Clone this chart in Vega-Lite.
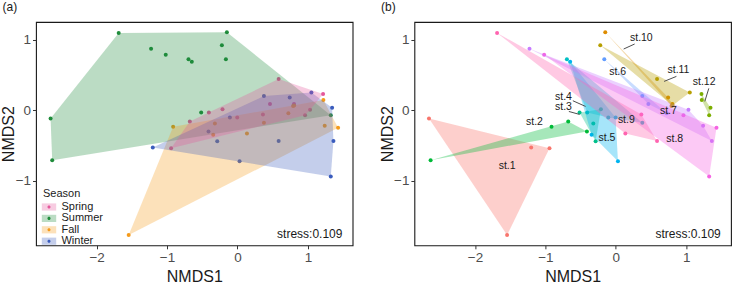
{
  "$schema": "https://vega.github.io/schema/vega-lite/v6.json",
  "background": "white",
  "padding": {"left": 0, "top": 0, "right": 0, "bottom": 0},
  "datasets": {
    "pts": [
      {"st": "st.1", "season": "Summer", "x": -2.653, "y": -0.117, "ha": 5, "hb": 1},
      {"st": "st.1", "season": "Fall", "x": -1.544, "y": -1.770, "ha": 4, "hb": 3},
      {"st": "st.1", "season": "Winter", "x": -1.202, "y": -0.529, "ha": 1, "hb": null},
      {"st": "st.1", "season": "Spring", "x": -0.942, "y": -0.539, "ha": 1, "hb": 2},
      {"st": "st.2", "season": "Summer", "x": -2.630, "y": -0.709, "ha": 4, "hb": 1},
      {"st": "st.2", "season": "Fall", "x": -0.913, "y": -0.236, "ha": 1, "hb": null},
      {"st": "st.2", "season": "Spring", "x": -0.676, "y": -0.160, "ha": 2, "hb": 2},
      {"st": "st.2", "season": "Winter", "x": -0.411, "y": -0.302, "ha": null, "hb": 3},
      {"st": "st.3", "season": "Summer", "x": -0.515, "y": -0.032, "ha": null, "hb": 1},
      {"st": "st.3", "season": "Spring", "x": -0.212, "y": 0.015, "ha": null, "hb": 2},
      {"st": "st.3", "season": "Fall", "x": -0.320, "y": -0.188, "ha": null, "hb": null},
      {"st": "st.3", "season": "Winter", "x": -0.287, "y": -0.439, "ha": null, "hb": 3},
      {"st": "st.4", "season": "Summer", "x": -0.695, "y": 0.721, "ha": null, "hb": 1},
      {"st": "st.4", "season": "Spring", "x": -0.406, "y": -0.032, "ha": null, "hb": 4},
      {"st": "st.4", "season": "Fall", "x": 0.376, "y": -0.179, "ha": null, "hb": 2},
      {"st": "st.4", "season": "Winter", "x": -0.107, "y": -0.103, "ha": null, "hb": 3},
      {"st": "st.5", "season": "Summer", "x": -0.648, "y": 0.688, "ha": null, "hb": 1},
      {"st": "st.5", "season": "Spring", "x": -0.003, "y": -0.103, "ha": null, "hb": 2},
      {"st": "st.5", "season": "Fall", "x": -0.344, "y": -0.349, "ha": null, "hb": 4},
      {"st": "st.5", "season": "Winter", "x": 0.030, "y": -0.723, "ha": null, "hb": 3},
      {"st": "st.6", "season": "Summer", "x": -0.164, "y": 0.721, "ha": null, "hb": 1},
      {"st": "st.6", "season": "Spring", "x": 0.462, "y": 0.086, "ha": null, "hb": 3},
      {"st": "st.6", "season": "Fall", "x": 0.723, "y": -0.042, "ha": null, "hb": 2},
      {"st": "st.6", "season": "Winter", "x": 0.376, "y": 0.200, "ha": 2, "hb": null},
      {"st": "st.7", "season": "Summer", "x": -1.226, "y": 0.872, "ha": null, "hb": 1},
      {"st": "st.7", "season": "Spring", "x": 1.031, "y": 0.006, "ha": 5, "hb": 2},
      {"st": "st.7", "season": "Fall", "x": 1.239, "y": -0.222, "ha": null, "hb": 3},
      {"st": "st.7", "season": "Winter", "x": 1.363, "y": -0.435, "ha": 5, "hb": 4},
      {"st": "st.8", "season": "Summer", "x": -1.018, "y": 0.787, "ha": null, "hb": 1},
      {"st": "st.8", "season": "Spring", "x": 0.960, "y": -0.070, "ha": 6, "hb": null},
      {"st": "st.8", "season": "Fall", "x": 1.429, "y": -0.250, "ha": 3, "hb": 2},
      {"st": "st.8", "season": "Winter", "x": 1.325, "y": -0.941, "ha": 6, "hb": 3},
      {"st": "st.9", "season": "Summer", "x": -1.686, "y": 1.095, "ha": 1, "hb": 1},
      {"st": "st.9", "season": "Spring", "x": 0.362, "y": -0.061, "ha": null, "hb": 2},
      {"st": "st.9", "season": "Fall", "x": 0.135, "y": -0.330, "ha": null, "hb": 4},
      {"st": "st.9", "season": "Winter", "x": 0.585, "y": -0.435, "ha": null, "hb": 3},
      {"st": "st.10", "season": "Summer", "x": -0.150, "y": 1.104, "ha": 2, "hb": 1},
      {"st": "st.10", "season": "Spring", "x": 0.803, "y": 0.087, "ha": null, "hb": 3},
      {"st": "st.10", "season": "Fall", "x": 0.790, "y": 0.060, "ha": null, "hb": 4},
      {"st": "st.10", "season": "Winter", "x": 0.742, "y": 0.181, "ha": null, "hb": 2},
      {"st": "st.11", "season": "Summer", "x": -0.221, "y": 0.919, "ha": null, "hb": 1},
      {"st": "st.11", "season": "Spring", "x": 0.585, "y": 0.441, "ha": 3, "hb": null},
      {"st": "st.11", "season": "Fall", "x": 0.805, "y": 0.066, "ha": null, "hb": 3},
      {"st": "st.11", "season": "Winter", "x": 1.050, "y": 0.252, "ha": 3, "hb": 2},
      {"st": "st.12", "season": "Spring", "x": 1.216, "y": 0.228, "ha": 4, "hb": 1},
      {"st": "st.12", "season": "Fall", "x": 1.220, "y": 0.143, "ha": 2, "hb": 4},
      {"st": "st.12", "season": "Winter", "x": 1.344, "y": 0.034, "ha": 4, "hb": 2},
      {"st": "st.12", "season": "Summer", "x": 1.325, "y": -0.070, "ha": 3, "hb": 3}
    ],
    "tags": [
      {"st": "st.1", "lx": -1.544, "ly": -0.79},
      {"st": "st.2", "lx": -1.155, "ly": -0.165},
      {"st": "st.3", "lx": -0.743, "ly": 0.05, "x1": -0.667, "y1": -0.018, "x2": -0.515, "y2": -0.06},
      {"st": "st.4", "lx": -0.743, "ly": 0.186, "x1": -0.61, "y1": 0.134, "x2": -0.43, "y2": 0.053},
      {"st": "st.5", "lx": -0.126, "ly": -0.397},
      {"st": "st.6", "lx": 0.026, "ly": 0.536},
      {"st": "st.7", "lx": 0.746, "ly": -0.018},
      {"st": "st.8", "lx": 0.836, "ly": -0.402},
      {"st": "st.9", "lx": 0.149, "ly": -0.141},
      {"st": "st.10", "lx": 0.362, "ly": 1.024, "x1": 0.267, "y1": 0.938, "x2": 0.111, "y2": 0.867},
      {"st": "st.11", "lx": 0.889, "ly": 0.569, "x1": 0.86, "y1": 0.479, "x2": 0.685, "y2": 0.408},
      {"st": "st.12", "lx": 1.254, "ly": 0.394, "x1": 1.32, "y1": 0.309, "x2": 1.263, "y2": 0.124}
    ]
  },
  "config": {
    "font": "Liberation Sans",
    "view": {"stroke": "#1a1a1a", "strokeWidth": 1.1},
    "axis": {
      "domain": false, "grid": false, "format": "d",
      "tickColor": "#333333", "tickSize": 3.5, "tickWidth": 1,
      "labelColor": "#4d4d4d", "labelFontSize": 13.5, "labelPadding": 2,
      "titleFontSize": 16, "titleFontWeight": "normal", "titleColor": "#1a1a1a"
    },
    "title": {"fontSize": 12, "fontWeight": "normal", "anchor": "start", "color": "#1a1a1a"}
  },
  "resolve": {"scale": {"color": "independent", "x": "independent", "y": "independent"}},
  "bounds": "flush",
  "spacing": 61.4,
  "hconcat": [
    {
      "width": 316.6,
      "height": 223.3,
      "title": {"text": "(a)", "frame": "bounds", "offset": 8, "dx": 2},
      "data": {"name": "pts"},
      "layer": [
        {
          "mark": {"type": "circle", "size": 16, "opacity": 1},
          "encoding": {
            "x": {"field": "x", "type": "quantitative", "scale": {"domain": [-2.86, 1.635], "nice": false, "zero": false}, "axis": {"title": "NMDS1", "values": [-2, -1, 0, 1], "titlePadding": 4.5}},
            "y": {"field": "y", "type": "quantitative", "scale": {"domain": [-1.915, 1.25], "nice": false, "zero": false}, "axis": {"title": "NMDS2", "values": [-1, 0, 1], "titlePadding": -1.5}},
            "color": {
              "field": "season", "type": "nominal",
              "scale": {"domain": ["Spring", "Summer", "Fall", "Winter"], "range": ["#e4579b", "#1f8c3b", "#f59b1c", "#3a5cbd"]},
              "legend": {
                "orient": "none", "legendX": 7, "legendY": 166, "zindex": 2,
                "title": "Season", "titleColor": "transparent", "titleFontSize": 11, "titleFontWeight": "normal", "titlePadding": 2,
                "labelFontSize": 11, "labelColor": "transparent", "labelOffset": 6.5,
                "symbolType": "M-0.26,0A0.26,0.26,0,1,0,0.26,0A0.26,0.26,0,1,0,-0.26,0Z",
                "symbolSize": 144, "symbolStrokeWidth": 0, "rowPadding": 0.4
              }
            }
          }
        },
        {
          "transform": [{"filter": {"field": "ha", "valid": true}}],
          "mark": {"type": "line", "filled": true, "opacity": 0.3, "strokeWidth": 0},
          "encoding": {
            "x": {"field": "x", "type": "quantitative"},
            "y": {"field": "y", "type": "quantitative"},
            "order": {"field": "ha", "type": "quantitative"},
            "color": {
              "field": "season", "type": "nominal",
              "scale": {"domain": ["Spring", "Summer", "Fall", "Winter"], "range": ["#e4579b", "#1f8c3b", "#f59b1c", "#3a5cbd"]},
              "legend": {
                "orient": "none", "legendX": 7, "legendY": 166, "zindex": 1,
                "title": "Season", "titleColor": "#1a1a1a", "titleFontSize": 11, "titleFontWeight": "normal", "titlePadding": 2,
                "labelFontSize": 11, "labelColor": "#1a1a1a", "labelOffset": 6.5,
                "symbolType": "M-1.2,-0.6H1.2V0.6H-1.2Z",
                "symbolSize": 144, "symbolOpacity": 0.3, "symbolStrokeWidth": 0, "rowPadding": 0.4
              }
            }
          }
        },
        {
          "data": {"values": [{"note": "stress:0.109"}]},
          "mark": {"type": "text", "align": "right", "baseline": "middle", "fontSize": 12, "color": "#1a1a1a"},
          "encoding": {
            "x": {"datum": 1.49, "type": "quantitative"},
            "y": {"datum": -1.76, "type": "quantitative"},
            "text": {"field": "note"}
          }
        }
      ],
      "resolve": {"scale": {"color": "independent"}}
    },
    {
      "width": 316.6,
      "height": 223.3,
      "title": {"text": "(b)", "frame": "bounds", "offset": 8, "dx": 2},
      "data": {"name": "pts"},
      "layer": [
        {
          "mark": {"type": "circle", "size": 16, "opacity": 1},
          "encoding": {
            "x": {"field": "x", "type": "quantitative", "scale": {"domain": [-2.86, 1.635], "nice": false, "zero": false}, "axis": {"title": "NMDS1", "values": [-2, -1, 0, 1], "titlePadding": 4.5}},
            "y": {"field": "y", "type": "quantitative", "scale": {"domain": [-1.915, 1.25], "nice": false, "zero": false}, "axis": {"title": "NMDS2", "values": [-1, 0, 1], "titlePadding": -1.5}},
            "color": {
              "field": "st", "type": "nominal",
              "scale": {
                "domain": ["st.1", "st.10", "st.11", "st.12", "st.2", "st.3", "st.4", "st.5", "st.6", "st.7", "st.8", "st.9"],
                "range": ["#F8766D", "#DE8C00", "#B79F00", "#7CAE00", "#00BA38", "#00C08B", "#00BFC4", "#00B4F0", "#619CFF", "#C77CFF", "#F564E3", "#FF64B0"]
              },
              "legend": null
            }
          }
        },
        {
          "transform": [{"filter": {"field": "hb", "valid": true}}],
          "mark": {"type": "line", "filled": true, "opacity": 0.35, "strokeWidth": 0},
          "encoding": {
            "x": {"field": "x", "type": "quantitative"},
            "y": {"field": "y", "type": "quantitative"},
            "order": {"field": "hb", "type": "quantitative"},
            "color": {"field": "st", "type": "nominal", "legend": null}
          }
        },
        {
          "data": {"name": "tags"},
          "transform": [{"filter": {"field": "x1", "valid": true}}],
          "mark": {"type": "rule", "color": "#4d4d4d", "strokeWidth": 1},
          "encoding": {
            "x": {"field": "x1", "type": "quantitative"},
            "y": {"field": "y1", "type": "quantitative"},
            "x2": {"field": "x2"},
            "y2": {"field": "y2"}
          }
        },
        {
          "data": {"name": "tags"},
          "mark": {"type": "text", "align": "center", "baseline": "middle", "fontSize": 10.5, "color": "#1a1a1a"},
          "encoding": {
            "x": {"field": "lx", "type": "quantitative"},
            "y": {"field": "ly", "type": "quantitative"},
            "text": {"field": "st"}
          }
        },
        {
          "data": {"values": [{"note": "stress:0.109"}]},
          "mark": {"type": "text", "align": "right", "baseline": "middle", "fontSize": 12, "color": "#1a1a1a"},
          "encoding": {
            "x": {"datum": 1.49, "type": "quantitative"},
            "y": {"datum": -1.76, "type": "quantitative"},
            "text": {"field": "note"}
          }
        }
      ]
    }
  ]
}
